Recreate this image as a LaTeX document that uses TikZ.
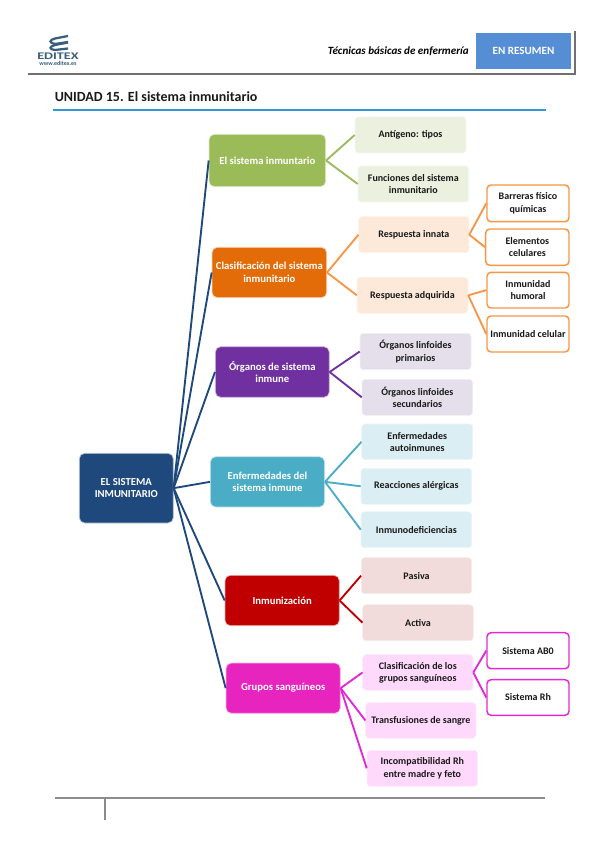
\documentclass[tikz,border=0pt]{standalone}
\usepackage{fontspec}
\setmainfont{Carlito}
\definecolor{root}{HTML}{1F497D}
\definecolor{gA}{HTML}{9BBB59}\definecolor{gL}{HTML}{EBF1DE}
\definecolor{oA}{HTML}{E36C09}\definecolor{oL}{HTML}{FDE9D9}\definecolor{oE}{HTML}{F79646}
\definecolor{pA}{HTML}{7030A0}\definecolor{pL}{HTML}{E5DFEC}
\definecolor{tA}{HTML}{4BACC6}\definecolor{tL}{HTML}{DBEEF4}
\definecolor{rA}{HTML}{C00000}\definecolor{rL}{HTML}{F2DCDB}
\definecolor{mA}{HTML}{E824BE}\definecolor{mL}{HTML}{FFD9FB}\definecolor{mE}{HTML}{E22AD2}
\definecolor{hdr}{HTML}{558ED5}
\definecolor{rulegrey}{HTML}{707070}
\definecolor{footgrey}{HTML}{8C8C8C}
\definecolor{ttl}{HTML}{2E9BD6}
\definecolor{logoc}{HTML}{3A5F7D}
\tikzset{
  x=0.75pt,y=-0.75pt,
  base/.style={rounded corners=3pt,inner sep=0pt,align=center,font=\bfseries\fontsize{7.5}{9.2}\selectfont,text=black!90},
  main/.style={base,text=white,draw=white!70!#1,fill=#1,line width=0.5pt,rounded corners=4pt,font=\bfseries\fontsize{8}{9.4}\selectfont},
  soft/.style={base,fill=#1,draw=white!50!#1,line width=0.4pt,rounded corners=2.5pt},
  outl/.style={base,fill=white,draw=#1,line width=1.1pt,rounded corners=3pt},
  lnk/.style={draw=#1,line width=1.4pt},
}
\newcommand{\bx}[7]{\node[#6,minimum width={(#4-#2)*0.75pt},minimum height={(#5-#3)*0.75pt}] (#1) at ({(#2+#4)/2},{(#3+#5)/2}) {#7};}
\begin{document}
\begin{tikzpicture}
\useasboundingbox (0,0) rectangle (599,848);
\fill[white] (0,0) rectangle (599,848);
% header
\coordinate (hl) at (28,74);\coordinate (hr) at (575,74);\coordinate (ht) at (575,31);
\draw[rulegrey,line width=1.8pt] (hl) -- (hr) -- (ht);
\bx{en}{476}{33}{571}{69}{base,fill=hdr,rounded corners=0pt,text=white,font=\bfseries\fontsize{8.3}{9}\selectfont}{EN RESUMEN}
\node[font=\bfseries\itshape\fontsize{8.3}{9}\selectfont,anchor=east,text=black,inner sep=0pt] (tec) at (469,51) {Técnicas básicas de enfermería};
\node[font=\bfseries\fontsize{10.5}{12}\selectfont,anchor=base west,text=black!90,inner sep=0pt] (tit) at (54.5,102) {UNIDAD 15. El sistema inmunitario};
\coordinate (ul) at (53,110);\coordinate (ur) at (546,110);
\draw[ttl,line width=0.9pt] (ul) -- (ur);
% logo
\begin{scope}[logoc,line width=1.7pt]
\draw (68,36) -- (55,38.5) .. controls (49,40) and (49,43) .. (55,44) -- (68,42);
\draw (68,42.5) -- (55,45) .. controls (49,46.5) and (49,49.5) .. (55,50) -- (68,48.5);
\end{scope}
\node[font=\bfseries\fontsize{7.6}{8}\selectfont,text=logoc,inner sep=0pt,xscale=1.4] (edx) at (58,56) {EDITEX};
\node[font=\bfseries\fontsize{4.5}{5}\selectfont,text=logoc,inner sep=0pt] (web) at (58,63) {www.editex.es};
% footer
\coordinate (fl) at (55,798);\coordinate (fr) at (545,798);\coordinate (fm) at (105,798);\coordinate (fb) at (105,820);
\draw[footgrey,line width=1.8pt] (fl) -- (fr);
\draw[footgrey,line width=1.8pt] (fm) -- (fb);
% root
\bx{R}{79.3}{453.3}{173.3}{523}{main=root}{EL SISTEMA\\INMUNITARIO}
% first level
\bx{A}{209}{134.3}{325.7}{186.7}{main=gA}{El sistema inmuntario}
\bx{B}{212}{247.3}{326.7}{297.7}{main=oA}{Clasificación del sistema\\inmunitario}
\bx{C}{215.3}{346.7}{329.3}{397.3}{main=pA}{Órganos de sistema\\inmune}
\bx{D}{210.3}{456.7}{324.7}{507}{main=tA}{Enfermedades del\\sistema inmune}
\bx{E}{225}{575.3}{339.3}{625.7}{main=rA}{Inmunización}
\bx{F}{226}{663}{340.3}{713.3}{main=mA}{Grupos sanguíneos}
% second level
\bx{A1}{355}{117}{466}{153}{soft=gL}{Antígeno: tipos}
\bx{A2}{358}{166}{468.7}{202}{soft=gL}{Funciones del sistema\\inmunitario}
\bx{B1}{358.7}{216.7}{469}{252.7}{soft=oL}{Respuesta innata}
\bx{B2}{357}{277.3}{468}{313.3}{soft=oL}{Respuesta adquirida}
\bx{C1}{360}{333.3}{471}{369.7}{soft=pL}{Órganos linfoides\\primarios}
\bx{C2}{362}{379.3}{472.7}{415.3}{soft=pL}{Órganos linfoides\\secundarios}
\bx{D1}{361.7}{424}{472.7}{459.7}{soft=tL}{Enfermedades\\autoinmunes}
\bx{D2}{361}{468.3}{471.7}{504.3}{soft=tL}{Reacciones alérgicas}
\bx{D3}{361}{511.7}{471.7}{547.7}{soft=tL}{Inmunodeficiencias}
\bx{E1}{361.3}{557.7}{471.7}{593.7}{soft=rL}{Pasiva}
\bx{E2}{362.7}{604.7}{473.3}{640.7}{soft=rL}{Activa}
\bx{F1}{362.7}{654.7}{473}{690.3}{soft=mL}{Clasificación de los\\grupos sanguíneos}
\bx{F2}{365.7}{702.7}{476}{738.3}{soft=mL}{Transfusiones de sangre}
\bx{F3}{367}{750.3}{477.7}{786.3}{soft=mL}{Incompatibilidad Rh\\entre madre y feto}
% third level
\bx{B11}{487}{185}{569}{221.7}{outl=oE}{Barreras físico\\químicas}
\bx{B12}{485.7}{229}{569}{265.3}{outl=oE}{Elementos\\celulares}
\bx{B21}{487}{272.3}{569}{308}{outl=oE}{Inmunidad\\humoral}
\bx{B22}{487}{316}{569}{352}{outl=oE}{Inmunidad celular}
\bx{F11}{487}{632.7}{569}{668.7}{outl=mE}{Sistema AB0}
\bx{F12}{487}{679.7}{569}{715.3}{outl=mE}{Sistema Rh}
% connectors
\foreach \n in {A,B,C,D,E,F} \draw[lnk=root] (R.east) -- (\n.west);
\foreach \n in {A1,A2} \draw[lnk=gA] (A.east) -- (\n.west);
\foreach \n in {B1,B2} \draw[lnk=oE] (B.east) -- (\n.west);
\foreach \n in {C1,C2} \draw[lnk=pA] (C.east) -- (\n.west);
\foreach \n in {D1,D2,D3} \draw[lnk=tA] (D.east) -- (\n.west);
\foreach \n in {E1,E2} \draw[lnk=rA] (E.east) -- (\n.west);
\foreach \n in {F1,F2,F3} \draw[lnk=mE] (F.east) -- (\n.west);
\foreach \n in {B11,B12} \draw[lnk=oE] (B1.east) -- (\n.west);
\foreach \n in {B21,B22} \draw[lnk=oE] (B2.east) -- (\n.west);
\foreach \n in {F11,F12} \draw[lnk=mE] (F1.east) -- (\n.west);
\end{tikzpicture}
\end{document}
